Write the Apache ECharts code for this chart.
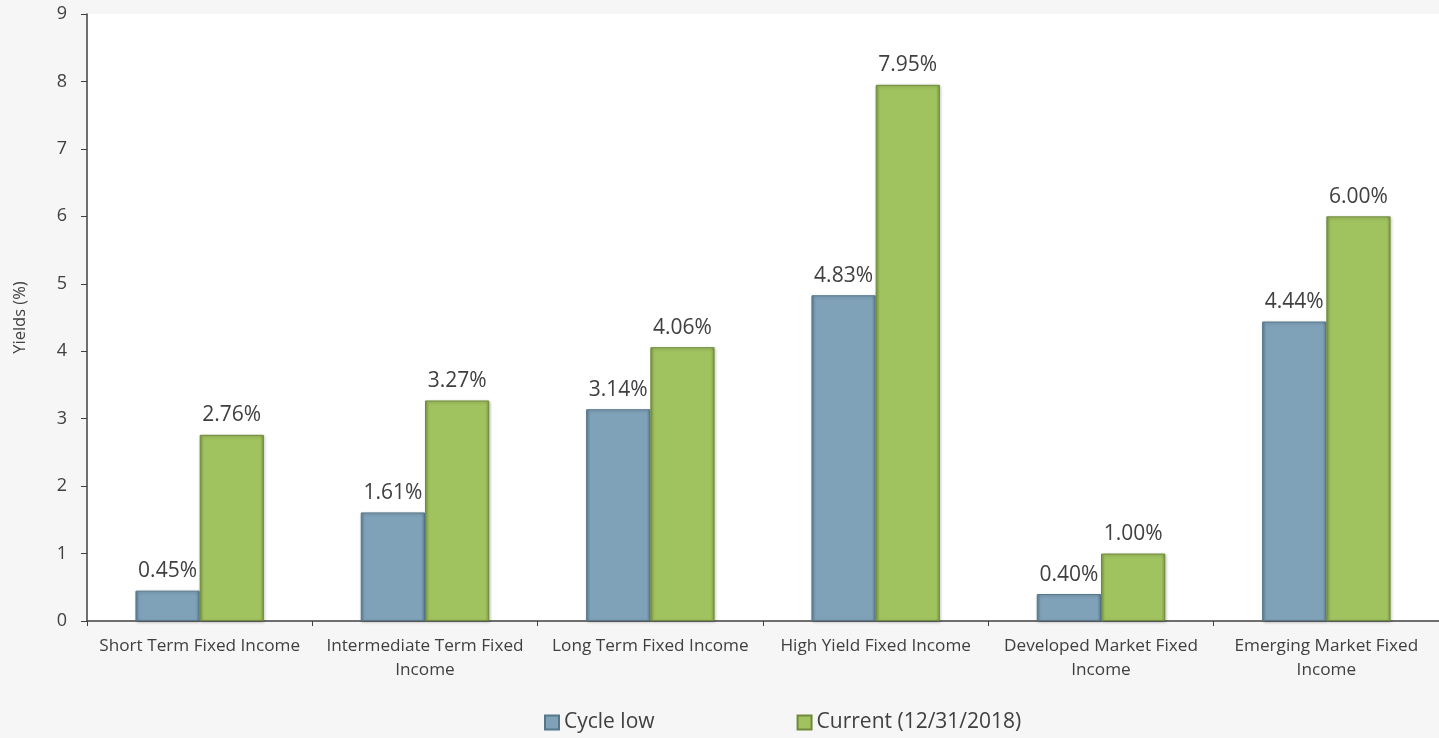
<!DOCTYPE html>
<html><head><meta charset="utf-8">
<script src="https://cdn.jsdelivr.net/npm/echarts@6/dist/echarts.min.js"></script>
<style>html,body{margin:0;padding:0;background:#f6f6f6;}#c{width:1439px;height:738px;}</style>
</head><body><div id="c"></div>
<script>
const categories = [
  "Short Term Fixed Income",
  "Intermediate Term Fixed\nIncome",
  "Long Term Fixed Income",
  "High Yield Fixed Income",
  "Developed Market Fixed\nIncome",
  "Emerging Market Fixed\nIncome"
];
const cycleLow = [0.45, 1.61, 3.14, 4.83, 0.40, 4.44];
const current = [2.76, 3.27, 4.06, 7.95, 1.00, 6.00];
const seriesNames = ["Cycle low", "Current (12/31/2018)"];

const font = "'Open Sans', sans-serif";
const txt = '#404040';
function bevel(base, dark) {
  return {
    type: 'linear', x: 0, y: 0, x2: 1, y2: 0,
    colorStops: [
      {offset: 0, color: dark}, {offset: 0.06, color: base},
      {offset: 0.94, color: base}, {offset: 1, color: dark}
    ]
  };
}
const chart = echarts.init(document.getElementById('c'));
chart.setOption({
  backgroundColor: '#f6f6f6',
  textStyle: {fontFamily: font},
  animation: false,
  grid: {left: 87, right: 0, top: 14, bottom: 117, show: true, backgroundColor: '#ffffff', borderWidth: 0},
  legend: {
    bottom: 0, left: 539, itemWidth: 14, itemHeight: 14, itemGap: 142, icon: 'rect',
    textStyle: {fontSize: 21, color: txt, fontFamily: font},
    data: seriesNames
  },
  xAxis: {
    type: 'category', data: categories,
    axisLine: {lineStyle: {color: txt, width: 1.5}},
    axisTick: {show: true, length: 5, lineStyle: {color: txt}},
    axisLabel: {color: txt, fontSize: 17.2, lineHeight: 24, margin: 13, interval: 0}
  },
  yAxis: {
    type: 'value', min: 0, max: 9, interval: 1,
    name: 'Yields (%)', nameLocation: 'middle', nameGap: 58,
    nameTextStyle: {fontSize: 16.5, color: txt},
    splitLine: {show: false},
    axisLine: {show: true, lineStyle: {color: txt, width: 1.5}},
    axisTick: {show: true, length: 6, lineStyle: {color: txt}},
    axisLabel: {color: txt, fontSize: 18, margin: 20}
  },
  series: [
    {
      name: seriesNames[0], type: 'bar', data: cycleLow,
      barGap: '0%', barCategoryGap: '43%',
      itemStyle: {color: bevel('#7fa2b9', '#5f8197'), borderColor: '#56768a', borderWidth: 1,
        shadowColor: 'rgba(0,0,0,0.25)', shadowBlur: 3, shadowOffsetX: 1, shadowOffsetY: 1},
      label: {show: true, position: 'top', distance: 9, fontSize: 21, color: txt,
        formatter: p => p.value.toFixed(2) + '%'}
    },
    {
      name: seriesNames[1], type: 'bar', data: current,
      itemStyle: {color: bevel('#a0c25f', '#7f9c44'), borderColor: '#6f8a3a', borderWidth: 1,
        shadowColor: 'rgba(0,0,0,0.25)', shadowBlur: 3, shadowOffsetX: 1, shadowOffsetY: 1},
      label: {show: true, position: 'top', distance: 9, fontSize: 21, color: txt,
        formatter: p => p.value.toFixed(2) + '%'}
    }
  ]
});
</script></body></html>
